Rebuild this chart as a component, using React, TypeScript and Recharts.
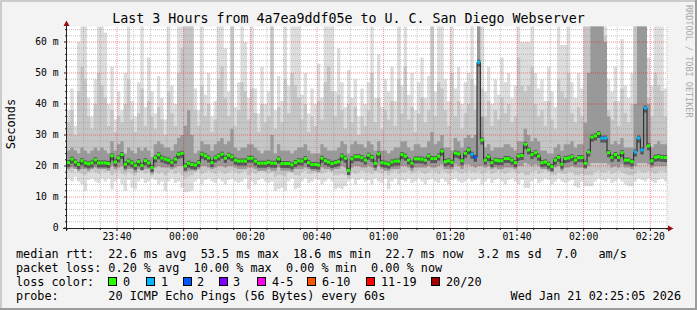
import {
  Area,
  CartesianGrid,
  ComposedChart,
  Line,
  ReferenceLine,
  Scatter,
  XAxis,
  YAxis,
} from "recharts";

const WIDTH = 697;
const HEIGHT = 310;
const PLOT_LEFT = 67;
const PLOT_RIGHT = 667;
const PLOT_TOP = 26.5;
const PLOT_BOTTOM = 228;
const MINUTES = 180;
const STEP_PX = (PLOT_RIGHT - PLOT_LEFT) / MINUTES;
const MONO = "'DejaVu Sans Mono', monospace";

// one value per 60 s step, 23:25 -> 02:25, in ms
const median = [
  21.1, 22.2, 21.3, 20.5, 21.7, 21.0, 20.7, 21.0, 22.0, 21.0,
  21.0, 21.0, 20.8, 23.3, 21.3, 22.6, 23.7, 20.6, 21.6, 21.0,
  20.2, 21.4, 20.2, 21.7, 21.0, 19.5, 22.6, 23.6, 22.6, 22.2,
  21.9, 21.2, 22.2, 23.8, 24.1, 20.0, 20.9, 20.5, 20.3, 21.1,
  23.8, 23.3, 22.6, 21.1, 22.6, 23.2, 23.8, 22.5, 23.5, 23.0,
  21.9, 21.6, 21.6, 21.6, 22.5, 22.5, 21.6, 20.9, 20.9, 20.9,
  21.2, 20.9, 20.9, 22.3, 20.8, 20.8, 20.8, 20.4, 21.1, 21.7,
  21.6, 22.4, 21.1, 20.5, 20.5, 20.3, 22.5, 21.7, 21.3, 20.8,
  21.1, 21.4, 23.2, 22.5, 18.6, 22.3, 23.0, 23.0, 22.7, 21.9,
  23.5, 22.8, 20.9, 23.9, 21.1, 20.9, 20.6, 21.3, 21.6, 21.6,
  23.7, 23.2, 21.9, 20.9, 22.3, 22.3, 22.2, 21.9, 23.2, 22.4,
  22.4, 23.2, 24.8, 21.4, 21.7, 21.2, 24.2, 23.9, 21.7, 24.1,
  25.2, 23.8, 22.8, 53.5, 28.4, 21.9, 23.0, 21.1, 21.9, 21.7,
  21.7, 22.4, 22.4, 21.9, 21.1, 23.2, 23.4, 27.0, 25.2, 23.7,
  24.3, 23.2, 21.1, 21.3, 20.6, 19.8, 21.9, 22.8, 20.6, 22.4,
  22.6, 23.0, 21.9, 22.7, 22.7, 20.9, 24.5, 29.3, 29.7, 30.5,
  29.0, 29.0, 24.3, 22.8, 23.7, 22.8, 24.3, 21.9, 21.9, 21.4,
  24.5, 29.0, 25.2, 38.7, 26.5, 21.7, 22.8, 23.0, 22.8, 22.7,
];

// slowest ping of each step (70 = off the top of the graph)
const maxPing = [
  38, 45, 33, 60, 70, 70, 42, 36, 48, 70,
  70, 63, 40, 52, 35, 44, 38, 50, 70, 41,
  36, 47, 70, 39, 55, 44, 37, 49, 42, 35,
  70, 46, 40, 70, 70, 70, 70, 70, 45, 38,
  70, 43, 50, 36, 41, 70, 70, 58, 44, 70,
  39, 47, 70, 60, 42, 70, 45, 37, 52, 40,
  44, 70, 38, 49, 41, 70, 46, 70, 70, 70,
  43, 50, 37, 45, 40, 53, 42, 70, 70, 70,
  44, 58, 47, 39, 51, 42, 48, 36, 45, 40,
  47, 70, 42, 56, 39, 48, 44, 52, 41, 70,
  46, 70, 43, 50, 38, 47, 55, 42, 49, 70,
  44, 70, 70, 48, 41, 70, 45, 52, 40, 47,
  50, 70, 46, 70, 70, 44, 52, 40, 48, 43,
  55, 47, 50, 42, 46, 70, 60, 60, 60, 70,
  50, 45, 48, 41, 52, 44, 39, 70, 59, 59,
  70, 47, 42, 50, 45, 70, 70, 70, 70, 70,
  70, 70, 48, 44, 52, 41, 61, 46, 42, 50,
  70, 70, 70, 70, 55, 46, 70, 70, 70, 45,
];

// upper edge of the middle smoke
const upPing = [
  34, 38, 30, 44, 52, 48, 36, 32, 40, 50,
  46, 42, 33, 38, 31, 36, 34, 40, 48, 35,
  31, 37, 45, 33, 41, 36, 32, 39, 35, 30,
  44, 37, 33, 50, 58, 70, 70, 70, 38, 33,
  46, 36, 40, 31, 35, 48, 52, 42, 36, 70,
  33, 38, 47, 44, 35, 45, 37, 31, 40, 34,
  36, 70, 32, 39, 34, 48, 37, 50, 46, 42,
  35, 40, 31, 36, 33, 41, 35, 47, 52, 44,
  36, 43, 38, 32, 40, 34, 39, 30, 36, 33,
  38, 50, 34, 42, 32, 38, 35, 41, 33, 48,
  37, 52, 35, 39, 31, 37, 42, 34, 38, 70,
  36, 47, 45, 38, 33, 50, 36, 41, 32, 37,
  40, 48, 38, 70, 45, 36, 41, 33, 38, 35,
  42, 37, 40, 34, 36, 55, 46, 44, 46, 52,
  40, 36, 38, 33, 41, 35, 32, 48, 44, 42,
  50, 37, 34, 39, 36, 70, 70, 70, 70, 70,
  70, 62, 38, 35, 41, 33, 45, 37, 34, 40,
  70, 70, 70, 70, 42, 36, 50, 46, 44, 36,
];

// upper edge of the dark smoke
const innerHi = [
  25, 26, 25, 24, 26, 25, 24, 25, 26, 25,
  26, 25, 24, 28, 25, 27, 28, 24, 26, 25,
  24, 26, 25, 26, 25, 23, 27, 28, 27, 26,
  26, 25, 27, 29, 30, 33, 38, 30, 24, 25,
  28, 27, 27, 25, 27, 28, 29, 27, 28, 32,
  26, 25, 26, 26, 27, 27, 26, 25, 24, 25,
  25, 30, 24, 27, 25, 25, 25, 24, 25, 26,
  26, 27, 25, 24, 24, 24, 27, 26, 25, 25,
  25, 26, 28, 27, 24, 27, 28, 27, 27, 26,
  28, 27, 25, 28, 25, 25, 24, 25, 26, 26,
  28, 28, 26, 25, 27, 27, 26, 26, 28, 31,
  27, 28, 30, 26, 26, 25, 29, 28, 26, 29,
  30, 29, 30, 70, 36, 26, 27, 25, 26, 26,
  26, 27, 27, 26, 25, 28, 28, 32, 30, 28,
  29, 28, 25, 25, 24, 24, 26, 27, 25, 27,
  27, 28, 26, 27, 27, 34, 50, 70, 70, 70,
  70, 60, 36, 27, 28, 27, 29, 26, 26, 26,
  40, 70, 70, 70, 40, 26, 27, 28, 27, 27,
];

// lower edge of the dark smoke
const innerLo = [
  19, 19.5, 19, 18.5, 19, 19, 18.5, 19, 19.5, 19,
  19, 19, 18.5, 20, 19, 19.5, 20, 18.5, 19, 19,
  18, 19, 18.5, 19, 19, 17.5, 19.5, 20, 19.5, 19.5,
  19.5, 19, 19.5, 20, 20, 18, 18.5, 18.5, 18.5, 19,
  20, 20, 19.5, 19, 19.5, 20, 20, 19.5, 20, 20,
  19.5, 19, 19, 19, 19.5, 19.5, 19, 18.5, 18.5, 18.5,
  19, 18.5, 18.5, 19.5, 18.5, 18.5, 18.5, 18, 19, 19,
  19, 19.5, 19, 18.5, 18.5, 18, 19.5, 19, 19, 18.5,
  19, 19, 20, 19.5, 17, 19.5, 20, 20, 19.5, 19.5,
  20, 19.5, 18.5, 20, 19, 18.5, 18.5, 19, 19, 19,
  20, 20, 19.5, 18.5, 19.5, 19.5, 19.5, 19.5, 20, 19.5,
  19.5, 20, 20.5, 19, 19, 19, 20.5, 20, 19, 20.5,
  20.5, 20, 19.5, 20, 20, 19.5, 20, 19, 19.5, 19,
  19, 19.5, 19.5, 19.5, 19, 20, 20, 21, 20.5, 20,
  20.5, 20, 19, 19, 18.5, 18, 19.5, 20, 18.5, 19.5,
  19.5, 20, 19.5, 19.5, 19.5, 19, 20, 21, 21, 21,
  21, 21, 20.5, 19.5, 20, 19.5, 20.5, 19.5, 19.5, 19,
  20, 21, 21, 21, 20.5, 19.5, 20, 20, 20, 20,
];

// lower edge of the middle smoke
const lowPing = [
  18.5, 18, 19, 18, 17.5, 17, 18, 18.5, 18, 17.5,
  18.5, 18, 18.5, 17, 18, 18.5, 17.5, 17, 18, 17.5,
  17, 18, 18.5, 17.5, 18, 17, 18, 17.5, 18, 17,
  18, 18.5, 17.5, 18, 17, 16, 16.5, 17, 18, 18.5,
  17.5, 18, 18.5, 18, 17.5, 18.5, 18, 17.5, 18, 18.5,
  18, 17.5, 18, 18.5, 17, 18, 17.5, 18, 18.5, 18,
  17.5, 18, 16.5, 17, 17, 16.5, 18, 18.5, 17, 17,
  18, 18.5, 17.5, 17.5, 18, 18, 17.5, 18, 18.5, 18,
  17, 17, 17.5, 17, 16, 18, 17.5, 18, 18.5, 18,
  18, 17.5, 18.5, 18, 17.5, 18.5, 17, 18, 18.5, 17.5,
  18, 18, 18.5, 17.5, 18, 18.5, 18, 17.5, 18, 18.5,
  18, 17.5, 18.5, 18, 17.5, 18, 18.5, 18, 17.5, 18,
  18.5, 18, 18, 18.5, 17.5, 18, 18.5, 17.5, 18, 18.5,
  18, 17.5, 18, 18.5, 18, 17.5, 18, 17, 17, 18,
  18.5, 17.5, 18, 18.5, 18, 17, 17, 18, 17.5, 17.5,
  18, 18, 17, 17, 17.5, 17, 17, 17, 18, 18.5,
  18, 18, 18.5, 17.5, 18, 18.5, 18, 17.5, 17, 17,
  17.5, 18.5, 18, 18, 18.5, 18, 17.5, 18, 18.5, 18,
];

// fastest ping of each step
const minPing = [
  16, 15, 16.5, 15, 14, 12, 15.5, 16, 15, 14.5,
  16, 15, 16, 12.5, 15, 16, 14, 12, 15.5, 13,
  12.5, 15, 16, 14.5, 15, 16, 15.5, 14, 15, 12,
  15, 16, 14.5, 15, 13, 11.5, 11.7, 12, 15, 16,
  14, 15.5, 16, 15, 14.5, 16, 15, 14, 15.5, 16,
  15, 14.5, 15, 16, 12.5, 15, 14, 15.5, 16, 15,
  14.5, 15, 12, 12.5, 13, 12, 15, 16, 12.5, 13,
  15, 16, 14.5, 15, 16, 15.5, 14, 15, 16, 15,
  12.5, 13, 12.5, 13.5, 15, 16, 14, 15.5, 16, 15,
  15.5, 14, 16, 15, 14.5, 16, 12.5, 15, 16, 14,
  15.5, 15, 16, 14.5, 15, 16, 15, 14, 15.5, 16,
  15, 14.5, 16, 15, 14, 15.5, 16, 15, 14.5, 15,
  16, 15, 15.5, 16, 14, 15, 16, 14.5, 15.5, 16,
  15, 14, 15.5, 16, 15, 14, 15.5, 13, 13, 15,
  16, 14.5, 15, 16, 15.5, 14, 15, 16, 15, 14.5,
  15, 15.5, 13.5, 13, 15, 13.5, 13.5, 13.5, 15, 16,
  15.5, 15, 16, 14.5, 15, 16, 15, 14, 13.5, 13.5,
  15, 16, 15.5, 15, 16, 15, 14.5, 15.5, 16, 15,
];

// [step, lost pings out of 20]
const lossAt: [number, number][] = [
  [121, 1], [122, 2], [123, 1], [160, 1], [161, 1],
  [170, 1], [171, 1], [172, 1], [173, 1],
];

const lossLabels = ["0", "1", "2", "3", "4-5", "6-10", "11-19", "20/20"];
const lossColors = ["#26ff00", "#00b8ff", "#0059ff", "#7e00ff", "#ff00ea", "#ff5500", "#ff0000", "#a10000"];
const lossBoxX = [108, 146, 183, 219, 257, 307, 366, 431];
const lossTextX = [123, 161, 197, 233, 272, 322, 381, 446];

const xTickLabels = ["23:40", "00:00", "00:20", "00:40", "01:00", "01:20", "01:40", "02:00", "02:20"];
const FIRST_LABEL_MIN = 15;
const LABEL_EVERY_MIN = 20;
const MINOR_EVERY_MIN = 5;
const Y_MAX = 65;
const Y_MAJOR = 10;
const Y_MINOR = 2;

const statLines = [
  "median rtt:  22.6 ms avg  53.5 ms max  18.6 ms min  22.7 ms now  3.2 ms sd  7.0   am/s",
  "packet loss: 0.20 % avg  10.00 % max  0.00 % min  0.00 % now",
];

function lossBucket(n: number) {
  if (n <= 3) return n;
  if (n <= 5) return 4;
  if (n <= 10) return 5;
  if (n < 20) return 6;
  return 7;
}

const rows: any[] = median.map((m, i) => {
  const hit = lossAt.find(([k]) => k === i);
  return {
    t: i,
    outer: [minPing[i], maxPing[i]],
    mid: [lowPing[i], upPing[i]],
    inner: [innerLo[i], innerHi[i]],
    median: m,
    loss: hit ? hit[1] : 0,
  };
});
// closes the last step at the right edge
rows.push({ ...rows[rows.length - 1], t: MINUTES, last: true });

const xTicks = Array.from({ length: MINUTES / MINOR_EVERY_MIN + 1 }, (_, k) => k * MINOR_EVERY_MIN);
const isMajorX = (t: number) => t >= FIRST_LABEL_MIN && (t - FIRST_LABEL_MIN) % LABEL_EVERY_MIN === 0;
const yTicks = Array.from({ length: Math.floor(Y_MAX / Y_MINOR) + 1 }, (_, k) => k * Y_MINOR);

function XTick({ x, y, payload }: any) {
  const t = payload.value;
  const major = isMajorX(t);
  return (
    <g>
      <line x1={x} x2={x} y1={y} y2={y + (major ? 3 : 2)} stroke="#222" />
      {major && (
        <text x={x} y={y + 12.4} textAnchor="middle" fontFamily={MONO} fontSize={9.7} fill="#000">
          {xTickLabels[(t - FIRST_LABEL_MIN) / LABEL_EVERY_MIN]}
        </text>
      )}
    </g>
  );
}

function YTick({ x, y, payload }: any) {
  const v = payload.value;
  const major = v % Y_MAJOR === 0;
  return (
    <g>
      <line x1={x - (major ? 3 : 2)} x2={x} y1={y} y2={y} stroke="#222" />
      {major && (
        <text x={x - 8.5} y={y} dy="0.36em" textAnchor="end" fontFamily={MONO} fontSize={9.7} fill="#000">
          {v === 0 ? "0" : `${v} m`}
        </text>
      )}
    </g>
  );
}

function MedianStep(props: any) {
  const { cx, cy, payload } = props;
  if (payload == null || payload.last || cx == null || cy == null) return <g />;
  return (
    <g>
      <rect x={cx} y={cy - 2.5} width={STEP_PX} height={7} fill="#3a3a3a" fillOpacity={0.7} />
      <rect x={cx} y={cy - 1.5} width={STEP_PX} height={3} fill={lossColors[lossBucket(payload.loss)]} />
    </g>
  );
}

const minorGrid = { stroke: "rgba(150,150,150,0.55)", strokeDasharray: "1 1", strokeWidth: 1 };
const majorGrid = { stroke: "rgba(255,0,0,0.45)", strokeDasharray: "1 1", strokeWidth: 1 };

export default function App() {
  return (
    <div style={{ position: "absolute", left: 0, top: 0, width: WIDTH, height: HEIGHT, background: "#f3f3f3" }}>
      <ComposedChart
        width={WIDTH}
        height={HEIGHT}
        data={rows}
        margin={{ top: PLOT_TOP, right: WIDTH - PLOT_RIGHT, bottom: HEIGHT - PLOT_BOTTOM - 20, left: 0 }}
      >
        <CartesianGrid fill="#ffffff" horizontal={false} vertical={false} stroke="none" />
        <XAxis
          dataKey="t"
          type="number"
          domain={[0, MINUTES]}
          ticks={xTicks}
          interval={0}
          height={20}
          axisLine={false}
          tickLine={false}
          tickSize={0}
          tickMargin={0}
          tick={XTick}
          allowDataOverflow
        />
        <YAxis
          type="number"
          domain={[0, Y_MAX]}
          ticks={yTicks}
          interval={0}
          width={PLOT_LEFT}
          axisLine={false}
          tickLine={false}
          tickSize={0}
          tickMargin={0}
          tick={YTick}
          allowDataOverflow
        />
        <Area dataKey="outer" type="stepAfter" fill="#dddddd" fillOpacity={1} stroke="none" isAnimationActive={false} />
        <Area dataKey="mid" type="stepAfter" fill="#c6c6c6" fillOpacity={1} stroke="none" isAnimationActive={false} />
        <Area dataKey="inner" type="stepAfter" fill="#999999" fillOpacity={1} stroke="none" isAnimationActive={false} />
        {yTicks.filter((v) => v > 0).map((v) => (
          <ReferenceLine key={`h${v}`} y={v} zIndex={350} {...(v % Y_MAJOR === 0 ? majorGrid : minorGrid)} />
        ))}
        {xTicks.filter((t) => t > 0).map((t) => (
          <ReferenceLine key={`v${t}`} x={t} zIndex={350} {...(isMajorX(t) ? majorGrid : minorGrid)} />
        ))}
        <Line dataKey="median" type="stepAfter" stroke="#1e1e1e" strokeWidth={1} dot={false} isAnimationActive={false} />
        <Scatter dataKey="median" shape={MedianStep} isAnimationActive={false} />
      </ComposedChart>

      <svg width={WIDTH} height={HEIGHT} style={{ position: "absolute", left: 0, top: 0, pointerEvents: "none" }}>
        <line x1={0} y1={1} x2={WIDTH} y2={1} stroke="#cccccc" strokeWidth={2} />
        <line x1={1} y1={0} x2={1} y2={HEIGHT} stroke="#cccccc" strokeWidth={2} />
        <line x1={0} y1={HEIGHT - 1} x2={WIDTH} y2={HEIGHT - 1} stroke="#9b9b9b" strokeWidth={2} />
        <line x1={WIDTH - 1} y1={0} x2={WIDTH - 1} y2={HEIGHT} stroke="#9b9b9b" strokeWidth={2} />

        <line x1={PLOT_LEFT - 0.5} y1={PLOT_BOTTOM + 3} x2={PLOT_LEFT - 0.5} y2={24} stroke="#222" />
        <polygon points="63.5,26 69.5,26 66.5,20.5" fill="#9a1010" />
        <line x1={PLOT_LEFT - 4} y1={PLOT_BOTTOM + 0.5} x2={669} y2={PLOT_BOTTOM + 0.5} stroke="#222" />
        <polygon points="668,225.5 668,231.5 673.5,228.5" fill="#9a1010" />

        <text x={348.5} y={23} textAnchor="middle" fontFamily={MONO} fontSize={13.3} fill="#000">
          Last 3 Hours from 4a7ea9ddf05e to U. C. San Diego Webserver
        </text>
        <text transform="translate(15,124) rotate(-90)" textAnchor="middle" fontFamily={MONO} fontSize={12} fill="#000">
          Seconds
        </text>
        <text transform="translate(686,5) rotate(90)" fontFamily={MONO} fontSize={8.5} fill="#a8a8a8">
          RRDTOOL / TOBI OETIKER
        </text>

        {statLines.map((s, k) => (
          <text key={k} x={16} y={257.5 + k * 14} fontFamily={MONO} fontSize={11.8} fill="#000" xmlSpace="preserve" style={{ whiteSpace: "pre" }}>
            {s}
          </text>
        ))}
        <text x={16} y={285.5} fontFamily={MONO} fontSize={11.8} fill="#000">loss color:</text>
        {lossLabels.map((l, k) => (
          <g key={l}>
            <rect x={lossBoxX[k] + 0.5} y={277.5} width={8} height={8} fill={lossColors[k]} stroke="#000" />
            <text x={lossTextX[k]} y={285.5} fontFamily={MONO} fontSize={11.8} fill="#000">{l}</text>
          </g>
        ))}
        <text x={16} y={299.5} fontFamily={MONO} fontSize={11.8} fill="#000" xmlSpace="preserve" style={{ whiteSpace: "pre" }}>
          {"probe:       20 ICMP Echo Pings (56 Bytes) every 60s"}
        </text>
        <text x={681} y={299.5} textAnchor="end" fontFamily={MONO} fontSize={11.8} fill="#000">
          Wed Jan 21 02:25:05 2026
        </text>
      </svg>
    </div>
  );
}
